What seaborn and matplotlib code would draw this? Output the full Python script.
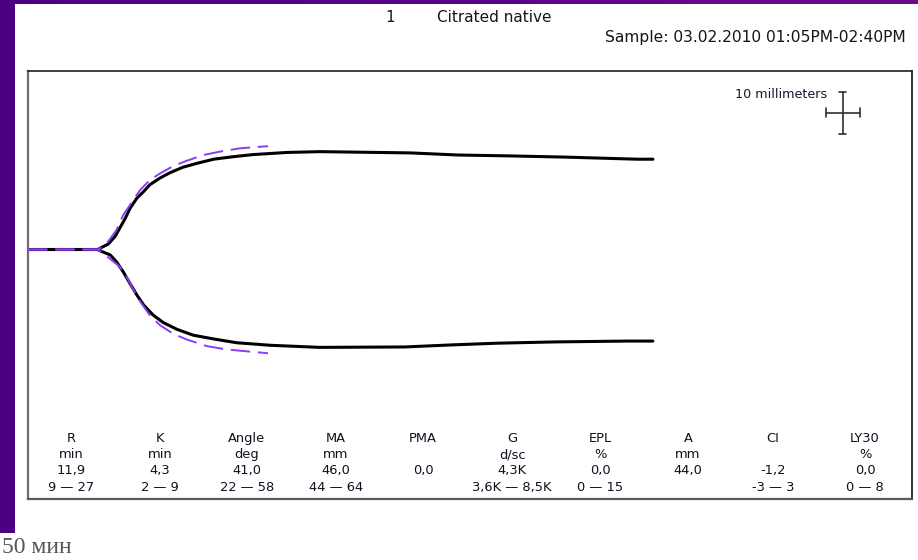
import numpy as np
import pandas as pd
import matplotlib
matplotlib.use("Agg")
import matplotlib.pyplot as plt
import seaborn as sns
from matplotlib.patches import Rectangle
from matplotlib.colors import LinearSegmentedColormap

# --- Thromboelastogram tracing: time in minutes, half-amplitude in mm ---
upper_time = [0, 10.3, 10.6, 11.8, 12.8, 13.5, 14.3, 15.0, 16.0, 17.0, 17.9, 19.4,
              20.9, 22.8, 24.8, 27.3, 30.2, 33.1, 38.0, 42.9, 56.2, 63.2, 70.4,
              79.0, 89.6, 91.9]
upper_mm = [0, 0, 0.3, 1.3, 3.1, 5.1, 7.4, 9.8, 12.2, 13.8, 15.4, 17.0,
            18.3, 19.6, 20.5, 21.5, 22.1, 22.6, 23.1, 23.3, 23.0, 22.5, 22.3,
            22.0, 21.5, 21.5]

lower_time = [0, 10.3, 10.6, 12.1, 13.0, 14.0, 15.0, 16.0, 17.0, 18.4, 19.9,
              21.9, 24.3, 27.3, 30.7, 35.6, 42.9, 55.4, 62.5, 69.1, 77.5, 88.1, 91.9]
lower_mm = [0, 0, 0.3, 1.3, 2.9, 5.3, 8.1, 10.8, 13.2, 15.6, 17.4,
            19.0, 20.4, 21.3, 22.2, 22.8, 23.3, 23.2, 22.7, 22.3, 22.0, 21.8, 21.8]

# Reference (normal) tracing
ref_upper_time = [0, 10.3, 10.6, 11.6, 13.0, 14.0, 15.0, 16.5, 17.9, 19.4, 21.4,
                  23.3, 25.8, 28.2, 31.2, 35.3]
ref_upper_mm = [0, 0, 0.3, 1.5, 4.6, 8.2, 10.6, 14.2, 16.5, 18.1, 19.9,
                21.1, 22.5, 23.3, 24.1, 24.6]
ref_lower_time = [0, 10.3, 10.6, 13.5, 14.5, 15.5, 16.5, 17.9, 19.4, 21.4, 23.3,
                  26.3, 29.2, 35.3]
ref_lower_mm = [0, 0, 0.3, 4.1, 6.5, 9.6, 12.4, 15.6, 18.0, 20.1, 21.4,
                23.0, 23.8, 24.7]

# --- Parameter table ---
param_names = ["R", "K", "Angle", "MA", "PMA", "G", "EPL", "A", "CI", "LY30"]
param_units = ["min", "min", "deg", "mm", "", "d/sc", "%", "mm", "", "%"]
param_values = ["11,9", "4,3", "41,0", "46,0", "0,0", "4,3K", "0,0", "44,0", "-1,2", "0,0"]
param_ranges = ["9 — 27", "2 — 9", "22 — 58", "44 — 64", "", "3,6K — 8,5K",
                "0 — 15", "", "-3 — 3", "0 — 8"]

sample_no = "1"
sample_name = "Citrated native"
sample_info = "Sample: 03.02.2010 01:05PM-02:40PM"
scale_label = "10 millimeters"
footer_text = "50 мин"

sns.set_theme(style="white")
plt.rcParams["font.family"] = ["DejaVu Sans"]

W, H = 918, 560
fig = plt.figure(figsize=(W / 100, H / 100), dpi=100)
fig.patch.set_facecolor("white")


def fx(px):
    return px / W


def fy(py):
    return 1 - py / H


# Purple frame strips
left_col = "#4B0080"
fig.patches.append(Rectangle((0, fy(533)), fx(15), 533 / H, transform=fig.transFigure,
                             facecolor=left_col, edgecolor="none", zorder=0))
strip_ax = fig.add_axes([0, fy(4), 1, 4 / H])
grad = np.linspace(0, 1, 256)[None, :]
strip_cmap = LinearSegmentedColormap.from_list("strip", ["#4B0080", "#5A0486", "#6E0A8C"])
strip_ax.imshow(grad, aspect="auto", cmap=strip_cmap, extent=[0, 1, 0, 1])
strip_ax.set_axis_off()

# Main tracing panel
ax = fig.add_axes([fx(28), fy(499), (912 - 28) / W, (499 - 71) / H])
ax.set_xlim(0, 130)
ax.set_ylim(-59.4, 42.5)
ax.set_xticks([])
ax.set_yticks([])
ax.set_facecolor("white")
for side, col, lw in [("left", "#6e6e6e", 1.6), ("bottom", "#5a5a5a", 1.6),
                      ("top", "#202020", 1.2), ("right", "#303030", 1.4)]:
    ax.spines[side].set_visible(True)
    ax.spines[side].set_color(col)
    ax.spines[side].set_linewidth(lw)

purple = "#8C3CF5"
sns.lineplot(x=upper_time, y=upper_mm, ax=ax, color="black", lw=2.2,
             sort=False, estimator=None, zorder=2)
sns.lineplot(x=lower_time, y=-np.array(lower_mm), ax=ax, color="black", lw=2.2,
             sort=False, estimator=None, zorder=2)
sns.lineplot(x=ref_upper_time, y=ref_upper_mm, ax=ax, color=purple, lw=1.4,
             linestyle=(0, (10, 4)), sort=False, estimator=None, zorder=3)
sns.lineplot(x=ref_lower_time, y=-np.array(ref_lower_mm), ax=ax, color=purple, lw=1.4,
             linestyle=(0, (10, 4)), sort=False, estimator=None, zorder=3)

# Scale cross: 5 min horizontally, 10 mm vertically
cx, cy = 119.8, 32.6
cross_kw = dict(color="#303030", lw=1.2)
ax.plot([cx, cx], [cy - 5, cy + 5], **cross_kw)
ax.plot([cx - 2.5, cx + 2.5], [cy, cy], **cross_kw)
ax.plot([cx - 0.5, cx + 0.5], [cy + 5, cy + 5], **cross_kw)
ax.plot([cx - 0.5, cx + 0.5], [cy - 5, cy - 5], **cross_kw)
ax.plot([cx - 2.5, cx - 2.5], [cy - 1, cy + 1], **cross_kw)
ax.plot([cx + 2.5, cx + 2.5], [cy - 1, cy + 1], **cross_kw)
ax.text(117.6, 36.8, scale_label, ha="right", va="center", fontsize=9.2, color="#151530")

# Header
txt_col = "#151515"
fig.text(fx(390), fy(21.7), sample_no, ha="center", va="baseline", fontsize=11, color=txt_col)
fig.text(fx(437), fy(21.7), sample_name, ha="left", va="baseline", fontsize=11, color=txt_col)
fig.text(fx(906), fy(42.0), sample_info, ha="right", va="baseline", fontsize=11.2, color=txt_col)

# Parameter table
col_x = [71, 160, 247, 336, 423, 512, 600, 688, 773, 865]
row_y = [441.7, 458.0, 474.3, 490.6]
tab_col = "#101020"
for i in range(len(param_names)):
    for row, vals in enumerate([param_names, param_units, param_values, param_ranges]):
        if vals[i]:
            fig.text(fx(col_x[i]), fy(row_y[row]), vals[i], ha="center", va="baseline",
                     fontsize=9.4, color=tab_col)

# Footer caption
fig.text(fx(2), fy(553), footer_text, ha="left", va="baseline", fontsize=17,
         color="#555555", family=["Liberation Serif", "DejaVu Serif"])

fig.savefig("out.png", dpi=100)
